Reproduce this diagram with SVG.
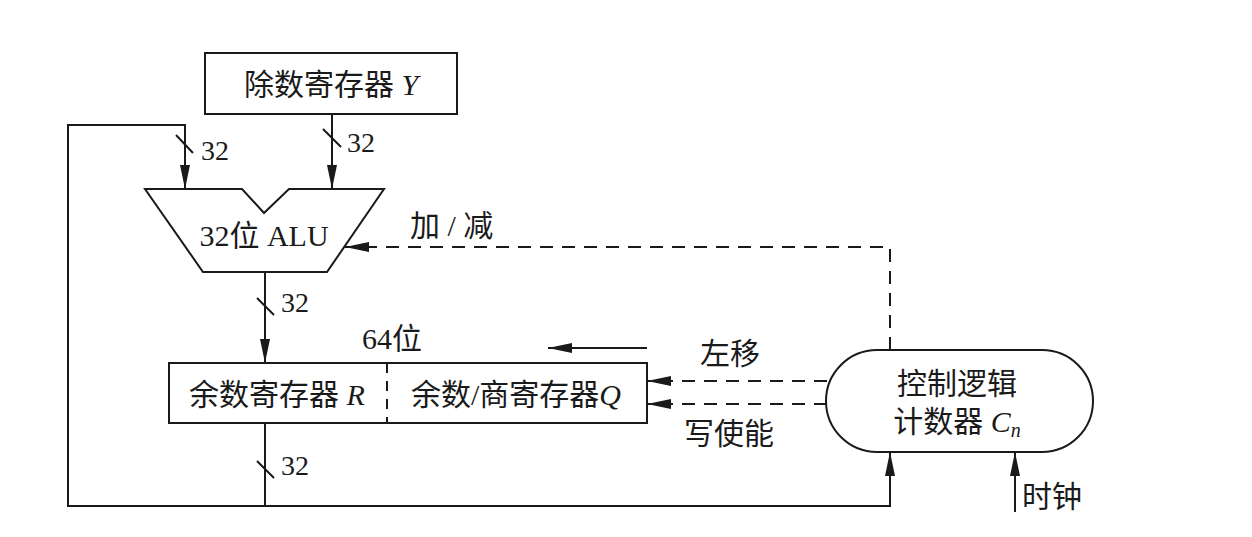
<svg xmlns="http://www.w3.org/2000/svg" width="1252" height="537" viewBox="0 0 1252 537">
<style>
.ln{fill:none;stroke:#1a1a1a;stroke-width:2}
.ds{fill:none;stroke:#1a1a1a;stroke-width:2;stroke-dasharray:13,9}
.bx{fill:#fff;stroke:#1a1a1a;stroke-width:2}
.t{font-family:"Liberation Serif","Noto Sans CJK SC",serif;font-size:30px;fill:#1a1a1a}
.n{font-size:28px}
.it{font-style:italic}
</style>
<defs>
<marker id="ah" markerWidth="24" markerHeight="10" refX="24" refY="5" orient="auto" markerUnits="userSpaceOnUse">
<path d="M0,0 L24,5 L0,10 Z" fill="#1a1a1a"/>
</marker>
</defs>
<rect width="1252" height="537" fill="#fff"/>
<g id="connectors">
<path class="ln" d="M265,506 L68,506 L68,125 L185,125 L185,189" marker-end="url(#ah)"/>
<path class="ln" d="M332,114 L332,189" marker-end="url(#ah)"/>
<path class="ln" d="M265,272 L265,363" marker-end="url(#ah)"/>
<path class="ln" d="M265,423 L265,506 L890,506 L890,452" marker-end="url(#ah)"/>
<path class="ln" d="M1015,512 L1015,452" marker-end="url(#ah)"/>
<path class="ln" d="M647,348 L548,348" marker-end="url(#ah)"/>
<path class="ds" d="M890,350 L890,247 L345,247" marker-end="url(#ah)"/>
<path class="ds" d="M827,381 L647,381" marker-end="url(#ah)"/>
<path class="ds" d="M827,404 L647,404" marker-end="url(#ah)"/>
<path class="ln" d="M176,135 L193,153 M323,129 L341,147 M257,298 L274,315 M257,461 L274,478"/>
<text class="t n" x="201" y="160">32</text>
<text class="t n" x="347" y="152">32</text>
<text class="t n" x="281" y="312">32</text>
<text class="t n" x="281" y="475">32</text>
<text class="t" x="410" y="236">加 / 减</text>
<text class="t" x="700" y="364">左移</text>
<text class="t" x="684" y="444">写使能</text>
<text class="t" x="1022" y="507">时钟</text>
<text class="t" x="362" y="349">64位</text>
</g>
<g id="divisor">
<rect class="bx" x="205" y="53" width="252" height="61"/>
<text class="t" x="331" y="95" text-anchor="middle">除数寄存器 <tspan class="it">Y</tspan></text>
</g>
<g id="alu">
<path class="bx" d="M145,189 L242,189 L264,213 L289,189 L384,189 L327,272 L203,272 Z"/>
<text class="t" x="264" y="246" text-anchor="middle">32位 ALU</text>
</g>
<g id="register">
<rect class="bx" x="169" y="363" width="478" height="60"/>
<line class="ds" x1="387" y1="363" x2="387" y2="423" style="stroke-dasharray:10,8"/>
<text class="t" x="277" y="405" text-anchor="middle">余数寄存器 <tspan class="it">R</tspan></text>
<text class="t" x="516" y="405" text-anchor="middle">余数/商寄存器<tspan class="it">Q</tspan></text>
</g>
<g id="control">
<rect class="bx" x="826" y="350" width="267" height="102" rx="51" ry="51"/>
<text class="t" x="957" y="394" text-anchor="middle">控制逻辑</text>
<text class="t" x="957" y="432" text-anchor="middle">计数器 <tspan class="it">C</tspan><tspan class="it" font-size="20" dy="5">n</tspan></text>
</g>
</svg>
